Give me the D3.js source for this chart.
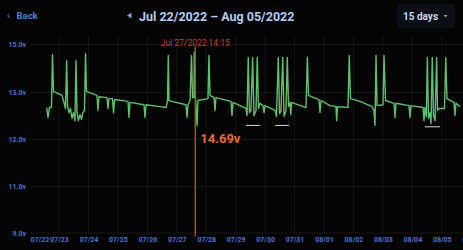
<!DOCTYPE html>
<html>
<head>
<meta charset="utf-8">
<script src="https://cdn.jsdelivr.net/npm/d3@7"></script>
<style>
  html, body { margin: 0; padding: 0; background: #040404; overflow: hidden; }
  svg { display: block; font-family: Roboto, 'Noto Sans', sans-serif; }
</style>
</head>
<body>
<div id="chart"></div>
<script>
// readings (time of reading, battery volts)
var readingTimes = [
  '07/22 13:55', '07/22 15:00', '07/22 16:10', '07/22 17:50', '07/22 18:40', '07/22 19:30', '07/22 23:10',
  '07/23 02:25', '07/23 04:00', '07/23 05:15', '07/23 06:15', '07/23 06:55', '07/23 08:05', '07/23 09:20',
  '07/23 10:35', '07/23 11:45', '07/23 13:00', '07/23 13:50', '07/23 14:40', '07/23 15:50', '07/23 17:05',
  '07/23 18:20', '07/23 19:30', '07/23 20:45', '07/23 21:35', '07/23 22:25',
  '07/24 02:50', '07/24 06:55', '07/24 07:45', '07/24 08:35', '07/24 15:05', '07/24 15:55', '07/24 16:45',
  '07/24 19:35', '07/24 20:25', '07/24 21:15',
  '07/25 08:15', '07/25 09:00', '07/25 09:50', '07/25 21:15', '07/25 22:05', '07/25 22:55',
  '07/26 10:20', '07/26 15:10', '07/26 16:25', '07/26 17:05', '07/26 17:40', '07/26 20:05',
  '07/27 07:30', '07/27 08:20', '07/27 09:10', '07/27 10:45', '07/27 12:00', '07/27 12:50', '07/27 14:00',
  '07/27 14:15', '07/27 15:15', '07/27 16:30', '07/27 17:15',
  '07/28 01:25', '07/28 02:15', '07/28 03:05', '07/28 06:20', '07/28 07:10', '07/28 07:55', '07/28 20:10',
  '07/28 21:00', '07/28 21:50',
  '07/29 08:25', '07/29 09:15', '07/29 10:15', '07/29 11:15', '07/29 12:30', '07/29 13:50', '07/29 14:55',
  '07/29 16:35', '07/29 17:35', '07/29 18:35', '07/29 19:50', '07/29 22:15', '07/29 23:05', '07/29 23:55',
  '07/30 08:05', '07/30 09:15', '07/30 10:45', '07/30 11:45', '07/30 12:55', '07/30 14:20', '07/30 15:25',
  '07/30 17:00', '07/30 18:05', '07/30 19:05', '07/30 20:15', '07/30 20:55', '07/30 21:30',
  '07/31 09:20', '07/31 10:25', '07/31 11:20', '07/31 19:55', '07/31 20:45', '07/31 21:35',
  '08/01 04:55', '08/01 09:45', '08/01 10:20', '08/01 11:00', '08/01 19:35', '08/01 20:35', '08/01 21:35',
  '08/02 05:20', '08/02 15:10', '08/02 16:45', '08/02 17:35', '08/02 18:25', '08/02 19:15',
  '08/03 00:05', '08/03 00:55', '08/03 02:10', '08/03 09:05', '08/03 09:55', '08/03 10:40', '08/03 21:15',
  '08/03 22:05', '08/03 22:55',
  '08/04 08:45', '08/04 09:30', '08/04 10:20', '08/04 11:25', '08/04 12:15', '08/04 13:10', '08/04 14:25',
  '08/04 15:15', '08/04 16:15', '08/04 17:15', '08/04 18:30', '08/04 19:50', '08/04 20:30', '08/04 21:45',
  '08/05 02:15', '08/05 03:15', '08/05 04:15', '08/05 10:00', '08/05 10:45', '08/05 11:35', '08/05 14:50'
]

var readingVolts = [
  12.68, 12.47, 12.68, 12.68, 14.58, 13.04, 12.98,
  12.94, 12.79, 12.66, 14.33, 12.72, 12.57, 12.66,
  12.45, 12.57, 12.40, 14.33, 12.57, 12.40, 12.53,
  12.43, 12.57, 12.62, 14.62, 13.04,
  12.98, 12.94, 12.62, 12.91, 12.89, 12.66, 12.87,
  12.87, 12.57, 12.85,
  12.81, 12.47, 12.79, 12.74, 12.47, 12.74,
  12.70, 12.68, 12.81, 14.54, 12.83, 12.81,
  12.74, 12.47, 12.74, 12.83, 14.54, 12.89, 12.89,
  14.69, 12.91, 12.30, 12.83,
  12.87, 14.54, 12.94, 12.89, 12.62, 12.89, 12.81,
  12.51, 12.79,
  12.66, 12.51, 14.46, 12.57, 12.62, 14.46, 12.51,
  12.62, 14.46, 12.66, 12.77, 12.72, 12.57, 12.72,
  12.62, 12.49, 14.46, 12.55, 12.60, 14.46, 12.49,
  12.62, 14.46, 12.70, 12.79, 12.53, 12.79,
  12.68, 14.46, 12.94, 12.85, 12.57, 12.83,
  12.72, 12.70, 12.40, 12.70, 12.68, 14.54, 12.87,
  12.81, 12.70, 12.62, 12.30, 14.54, 12.72,
  12.74, 14.54, 12.83, 12.77, 12.47, 12.77, 12.72,
  12.47, 12.72,
  12.68, 12.40, 12.68, 12.49, 14.46, 12.45, 12.57,
  12.34, 14.46, 12.51, 12.40, 14.46, 12.62, 12.66,
  12.66, 14.46, 12.87, 12.79, 12.51, 12.77, 12.70
]

// axis labels
var yTicks = [9, 11, 12, 13, 15]
var dayTicks = ['07/22 08:00', '07/23 00:00', '07/24 00:00', '07/25 00:00', '07/26 00:00', '07/27 00:00',
  '07/28 00:00', '07/29 00:00', '07/30 00:00', '07/31 00:00', '08/01 00:00', '08/02 00:00',
  '08/03 00:00', '08/04 00:00', '08/05 00:00', '08/06 00:00']

// selected reading
var markerTime = '07/27 14:15'
var markerVolts = 14.69

// white marks under the charging bursts
var burstStarts = ['07/29 08:25', '07/30 08:05', '08/04 10:20']
var burstEnds = ['07/29 20:00', '07/30 19:35', '08/04 22:35']
var burstVolts = [12.30, 12.30, 12.27]

var parseTime = d3.timeParse('%Y/%m/%d %H:%M')
function toDate (s) { return parseTime('2022/' + s) }

var svgWidth = 463
var svgHeight = 250

var svg = d3.select('#chart')
  .append('svg')
  .attr('width', svgWidth)
  .attr('height', svgHeight)

svg.append('rect')
  .attr('width', svgWidth)
  .attr('height', svgHeight)
  .attr('fill', '#040404')

// scales
var xScale = d3.scaleTime()
  .domain([toDate('07/22 08:00'), toDate('08/06 00:00')])
  .range([39.4, 471.2])

var yScale = d3.scaleLinear()
  .domain([9, 11, 12, 13, 15])
  .range([233, 186.5, 139.5, 92.5, 44.5])

// grid
var gridGroup = svg.append('g')
gridGroup.selectAll('.hgrid')
  .data(yTicks)
  .enter()
  .append('line')
  .attr('x1', 30)
  .attr('x2', svgWidth)
  .attr('y1', d => yScale(d))
  .attr('y2', d => yScale(d))
  .attr('stroke', '#1c1c1c')
  .attr('stroke-width', 0.8)

gridGroup.selectAll('.vgrid')
  .data(dayTicks.slice(1))
  .enter()
  .append('line')
  .attr('x1', d => xScale(toDate(d)))
  .attr('x2', d => xScale(toDate(d)))
  .attr('y1', 36)
  .attr('y2', 233)
  .attr('stroke', '#171717')
  .attr('stroke-width', 0.8)

// axes
var leftAxis = d3.axisLeft(yScale)
  .tickValues(yTicks)
  .tickSize(0)
  .tickPadding(0)
  .tickFormat(d => d3.format('.1f')(d) + 'v')

svg.append('g')
  .attr('transform', 'translate(26, 0)')
  .call(leftAxis)

var bottomAxis = d3.axisBottom(xScale)
  .tickValues(dayTicks.map(toDate))
  .tickSize(0)
  .tickPadding(0)
  .tickFormat(d3.timeFormat('%m/%d'))

svg.append('g')
  .attr('transform', 'translate(0, 237)')
  .call(bottomAxis)

svg.selectAll('.domain').remove()
svg.selectAll('.tick text')
  .attr('fill', '#4677d8')
  .style('font-size', '7px')
  .style('font-weight', 'bold')
  .style('font-family', 'Roboto, sans-serif')

// voltage line
var readings = readingTimes.map((t, i) => ({ date: toDate(t), volts: readingVolts[i] }))

var line = d3.line()
  .x(d => xScale(d.date))
  .y(d => yScale(d.volts))

svg.append('path')
  .datum(readings)
  .attr('d', line)
  .attr('fill', 'none')
  .attr('stroke', '#5fc06c')
  .attr('stroke-width', 1.4)
  .attr('stroke-linejoin', 'round')

// burst underlines
svg.selectAll('.burst')
  .data(burstStarts)
  .enter()
  .append('line')
  .attr('x1', d => xScale(toDate(d)))
  .attr('x2', (d, i) => xScale(toDate(burstEnds[i])))
  .attr('y1', (d, i) => yScale(burstVolts[i]))
  .attr('y2', (d, i) => yScale(burstVolts[i]))
  .attr('stroke', '#d8d8d8')
  .attr('stroke-width', 1)

// marker
var markerX = xScale(toDate(markerTime)) + 1
svg.append('line')
  .attr('x1', markerX)
  .attr('x2', markerX)
  .attr('y1', 47)
  .attr('y2', 236)
  .attr('stroke', '#b9502b')
  .attr('stroke-width', 1.4)

svg.append('text')
  .attr('x', markerX)
  .attr('y', 46)
  .attr('text-anchor', 'middle')
  .attr('fill', '#c9452c')
  .style('font-size', '8.5px')
  .text('Jul 27/2022 14:15')

svg.append('text')
  .attr('x', markerX + 5)
  .attr('y', 143)
  .attr('fill', '#e96a31')
  .style('font-size', '13px')
  .style('font-weight', 'bold')
  .text(d3.format('.2f')(markerVolts) + 'v')

// header
svg.append('text')
  .attr('x', 7)
  .attr('y', 19)
  .attr('fill', '#4c80da')
  .style('font-size', '10px')
  .text('\u2039')

svg.append('text')
  .attr('x', 16.5)
  .attr('y', 18.5)
  .attr('fill', '#4c80da')
  .style('font-size', '9.5px')
  .style('font-weight', 'bold')
  .text('Back')

svg.append('path')
  .attr('d', 'M127,15.5 L131.5,12.5 L131.5,18.5 Z')
  .attr('fill', '#7f9fd8')

svg.append('text')
  .attr('x', 139)
  .attr('y', 20.5)
  .attr('fill', '#b3ccf5')
  .style('font-size', '12.5px')
  .style('font-weight', 'bold')
  .text('Jul 22/2022 \u2013 Aug 05/2022')

svg.append('rect')
  .attr('x', 397)
  .attr('y', 4)
  .attr('width', 58)
  .attr('height', 24)
  .attr('rx', 4)
  .attr('fill', '#0b0e15')

svg.append('text')
  .attr('x', 403)
  .attr('y', 20)
  .attr('fill', '#c6d6f2')
  .style('font-size', '10px')
  .style('font-weight', 'bold')
  .text('15 days')

svg.append('path')
  .attr('d', 'M443.5,15 L447.5,15 L445.5,17.5 Z')
  .attr('fill', '#8595b0')
</script>
</body>
</html>
